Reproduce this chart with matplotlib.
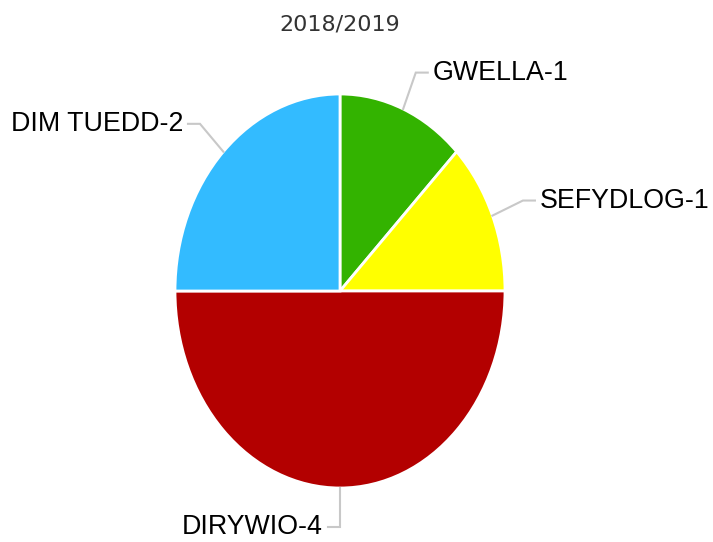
import numpy as np
import matplotlib.pyplot as plt

names = ["GWELLA", "SEFYDLOG", "DIRYWIO", "DIM TUEDD"]
values = [1, 1, 4, 2]
colors = ["#33b300", "#ffff00", "#b30000", "#33bbff"]
title = "2018/2019"

W, H = 713, 542
cx, cy = 340, 291      # pie centre in pixels
rx, ry = 165, 197      # ellipse radii in pixels

fig = plt.figure(figsize=(W / 100, H / 100), dpi=100)
ax = fig.add_axes([0, 0, 1, 1])

wedges, _ = ax.pie(values, colors=colors, startangle=90, counterclock=False,
                   wedgeprops=dict(edgecolor="white", linewidth=2))

ax.set_aspect("auto")
ax.set_xlim(-cx / rx, (W - cx) / rx)
ax.set_ylim((cy - H) / ry, cy / ry)
ax.axis("off")

# pixels per data unit, used for the horizontal leader tails
px_x = 1.0 / rx

for w, name, v in zip(wedges, names, values):
    ang = np.deg2rad((w.theta1 + w.theta2) / 2)
    x0, y0 = np.cos(ang), np.sin(ang)
    x1, y1 = 1.2 * x0, 1.2 * y0
    side = 1 if x0 > 1e-6 else -1
    x2 = x1 + side * 12 * px_x
    ax.plot([x0, x1, x2], [y0, y1, y1], color="#c8c8c8", lw=1.5,
            solid_joinstyle="miter", clip_on=False)
    ax.text(x2 + side * 5 * px_x, y1, f"{name}-{v}",
            ha="left" if side > 0 else "right", va="center",
            fontsize=19.3, family="Liberation Sans", color="black")

fig.text(cx / W, 1 - 25 / H, title, ha="center", va="center",
         fontsize=16, family="DejaVu Sans", color="#333333")

fig.savefig("out.png", dpi=100)
